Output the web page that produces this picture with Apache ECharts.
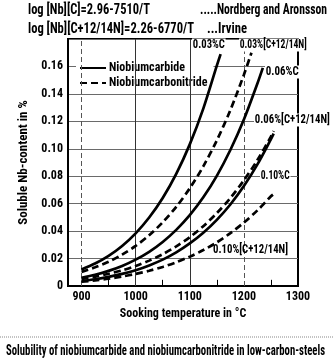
<!DOCTYPE html>
<html><head><meta charset="utf-8">
<script src="https://cdn.jsdelivr.net/npm/echarts@6/dist/echarts.min.js"></script>
<style>html,body{margin:0;padding:0;background:#fff}#c{width:334px;height:363px}</style>
</head><body><div id="c"></div>
<script>
// ---- data ----
const xTickLabels = [900, 1000, 1100, 1200, 1300];
const yTickLabels = [0, 0.02, 0.04, 0.06, 0.08, 0.10, 0.12, 0.14, 0.16];
const gridSolidX = [1000, 1100];
const gridDashedX = [900, 1200];
const minorTickX = [950, 1050, 1150, 1250];

const T_c003  = [900,925,950,975,1000,1025,1050,1075,1100,1125,1150,1157];
const nb_c003 = [0.0121,0.0164,0.0220,0.0292,0.0384,0.0499,0.0641,0.0817,0.1032,0.1293,0.1606,0.169];
const T_cn003  = [900,925,950,975,1000,1025,1050,1075,1100,1125,1150,1175,1200,1214];
const nb_cn003 = [0.0103,0.0136,0.0177,0.0229,0.0292,0.0370,0.0464,0.0577,0.0712,0.0872,0.1061,0.1282,0.1539,0.170];
const T_c006  = [900,925,950,975,1000,1025,1050,1075,1100,1125,1150,1175,1200,1225,1235];
const nb_c006 = [0.0060,0.0082,0.0110,0.0146,0.0192,0.0249,0.0321,0.0409,0.0516,0.0646,0.0803,0.0991,0.1213,0.1476,0.159];
const T_cn006  = [900,925,950,975,1000,1025,1050,1075,1100,1125,1150,1175,1200,1225,1250,1255];
const nb_cn006 = [0.0051,0.0068,0.0089,0.0114,0.0146,0.0185,0.0232,0.0289,0.0356,0.0436,0.0531,0.0641,0.0770,0.0918,0.1089,0.113];
const T_c010  = [900,925,950,975,1000,1025,1050,1075,1100,1125,1150,1175,1200,1225,1250,1255];
const nb_c010 = [0.0036,0.0049,0.0066,0.0088,0.0115,0.0150,0.0192,0.0245,0.0310,0.0388,0.0482,0.0594,0.0728,0.0886,0.1070,0.111];
const T_cn010  = [900,925,950,975,1000,1025,1050,1075,1100,1125,1150,1175,1200,1225,1250,1255];
const nb_cn010 = [0.0031,0.0041,0.0053,0.0069,0.0088,0.0111,0.0139,0.0173,0.0214,0.0262,0.0318,0.0385,0.0462,0.0551,0.0654,0.067];

const seriesNames = ['Niobiumcarbide', 'Niobiumcarbonitride'];
const curveLabels = ['0.03%C','0.03%[C+12/14N]','0.06%C','0.06%[C+12/14N]','0.10%C','0.10%[C+12/14N]'];
const headerTexts = ['log [Nb][C]=2.96-7510/T','log [Nb][C+12/14N]=2.26-6770/T','.....Nordberg and Aronsson','...Irvine'];
const xName = 'Sooking temperature in \u00B0C';
const yName = 'Soluble Nb-content in %';
const caption = 'Solubility of niobiumcarbide and niobiumcarbonitride in low-carbon-steels';

// ---- font selection: pick the narrowest installed face ----
const cv = document.createElement('canvas').getContext('2d');
function w(font, s) { cv.font = font; return cv.measureText(s).width; }
const probe = 'Niobiumcarbonitride 0.16';
function installed(fam) {
  return Math.abs(w('20px ' + fam + ',monospace', probe) - w('20px ' + fam + ',serif', probe)) < 0.01;
}
let FAM = "'Liberation Sans'", FSTYLE = 'normal';
let best = w("20px 'Liberation Sans'", probe);
[["'Liberation Sans Narrow'", 'normal'], ["'DejaVu Sans Condensed'", 'normal'], ["'Roboto Condensed'", 'normal'],
 ["'Open Sans Condensed'", 'normal']].forEach(([f, s]) => {
  if (installed(f)) { const ww = w('20px ' + f, probe); if (ww < best) { best = ww; FAM = f; FSTYLE = s; } }
});
{ // try font-stretch condensed on DejaVu Sans
  const a = w("condensed 20px 'DejaVu Sans'", probe), b = w("20px 'DejaVu Sans'", probe);
  if (installed("'DejaVu Sans'") && a < b - 1 && a < best) { best = a; FAM = "'DejaVu Sans'"; FSTYLE = 'condensed'; }
}
const FONT = FAM + ',sans-serif';
const WEIGHT = 'bold';
const fontStr = (size, wt) => (FSTYLE === 'condensed' ? 'condensed ' : '') + (wt || WEIGHT) + ' ' + size + 'px ' + FONT;

function sx(text, size, tw) { return tw / w(fontStr(size), text); }
function txt(text, x, y, tw, size, bg) {
  const st = { text: text, fill: '#000', font: fontStr(size), verticalAlign: 'middle', align: 'left' };
  if (bg) { st.backgroundColor = '#fff'; st.padding = [0, 1]; }
  return { type: 'text', x: x, y: y, scaleX: sx(text, size, tw), z: 100, style: st };
}
const zip = (a, b) => a.map((v, i) => [v, b[i]]);
const tStyle = (size, wt) => ({ color: '#000', fontFamily: FONT, fontSize: size, fontWeight: wt || WEIGHT,
  fontStyle: FSTYLE === 'condensed' ? 'condensed' : 'normal' });

const dash = [7, 4];
function curve(name, T, v, dashed) {
  return { name: name, type: 'line', data: zip(T, v), smooth: 0.3, symbol: 'none', z: 5,
    lineStyle: { color: '#000', width: 2.7, type: dashed ? dash : 'solid' }, itemStyle: { color: '#000' } };
}

const chart = echarts.init(document.getElementById('c'), null, { renderer: 'canvas' });
chart.setOption({
  animation: false,
  backgroundColor: '#fff',
  grid: { left: 68, right: 36, top: 39, bottom: 77, show: true, borderColor: '#000', borderWidth: 2, backgroundColor: 'transparent' },
  xAxis: {
    type: 'value', min: 875, max: 1300, interval: 25,
    axisLine: { show: true, lineStyle: { color: '#000', width: 2 } },
    axisTick: { show: false }, splitLine: { show: false },
    axisLabel: Object.assign(tStyle(12), { margin: 5,
      formatter: v => xTickLabels.indexOf(v) >= 0 ? String(v) : '' }),
    name: xName, nameLocation: 'middle', nameGap: 17,
    nameTextStyle: Object.assign(tStyle(12), { verticalAlign: 'top' })
  },
  yAxis: {
    type: 'value', min: 0, max: 0.18, interval: 0.02,
    axisLine: { show: true, lineStyle: { color: '#000', width: 2 } },
    axisTick: { show: false },
    splitLine: { show: true, lineStyle: { color: '#6a6a6a', width: 1 } },
    axisLabel: Object.assign(tStyle(12), { margin: 5,
      formatter: v => { const i = yTickLabels.findIndex(t => Math.abs(t - v) < 1e-9); return i < 0 ? '' : (v === 0 ? '0' : v.toFixed(2)); } }),
    name: yName, nameLocation: 'middle', nameGap: 31, nameRotate: 90,
    nameTextStyle: tStyle(13)
  },
  legend: {
    data: seriesNames, orient: 'vertical', left: 76, top: 61, itemWidth: 26, itemHeight: 10, itemGap: 3,
    backgroundColor: '#fff', padding: [1, 6, 3, 3],
    itemStyle: { opacity: 0 },
    lineStyle: { width: 2 },
    textStyle: Object.assign(tStyle(12), { padding: [0, 0, 0, -2] })
  },
  series: [
    { name: 'grid', type: 'line', data: [], z: 1, silent: true,
      markLine: { silent: true, symbol: 'none', label: { show: false },
        data: gridSolidX.map(x => ({ xAxis: x, lineStyle: { color: '#333', width: 1, type: 'solid' } }))
          .concat(gridDashedX.map(x => ({ xAxis: x, lineStyle: { color: '#555', width: 1, type: [5, 3] } })))
          .concat(minorTickX.map(x => [{ coord: [x, 0], lineStyle: { color: '#000', width: 1, type: 'solid' } }, { coord: [x, 0.0045] }]))
      } },
    curve(seriesNames[0], T_c003, nb_c003, false),
    curve(seriesNames[1], T_cn003, nb_cn003, true),
    curve(seriesNames[0], T_c006, nb_c006, false),
    curve(seriesNames[1], T_cn006, nb_cn006, true),
    curve(seriesNames[0], T_c010, nb_c010, false),
    curve(seriesNames[1], T_cn010, nb_cn010, true)
  ],
  graphic: [
    txt(headerTexts[0], 28, 10, 122, 15),
    txt(headerTexts[1], 28, 29, 166, 15),
    txt(headerTexts[2], 200, 10, 127, 15),
    txt(headerTexts[3], 207, 29, 40, 15),
    txt(curveLabels[0], 192, 45, 32, 13, true),
    txt(curveLabels[1], 239, 45, 67, 13, true),
    txt(curveLabels[2], 265, 72, 33, 13, true),
    txt(curveLabels[3], 254, 120, 75, 13, true),
    txt(curveLabels[4], 260, 176, 29, 13, true),
    txt(curveLabels[5], 213, 250, 75, 13, false),
    { type: 'line', shape: { x1: 0, y1: 337, x2: 334, y2: 337 }, style: { stroke: '#888', lineWidth: 1, lineDash: [1, 1] } },
    txt(caption, 6, 351, 319, 15)
  ]
});
</script>
</body></html>
